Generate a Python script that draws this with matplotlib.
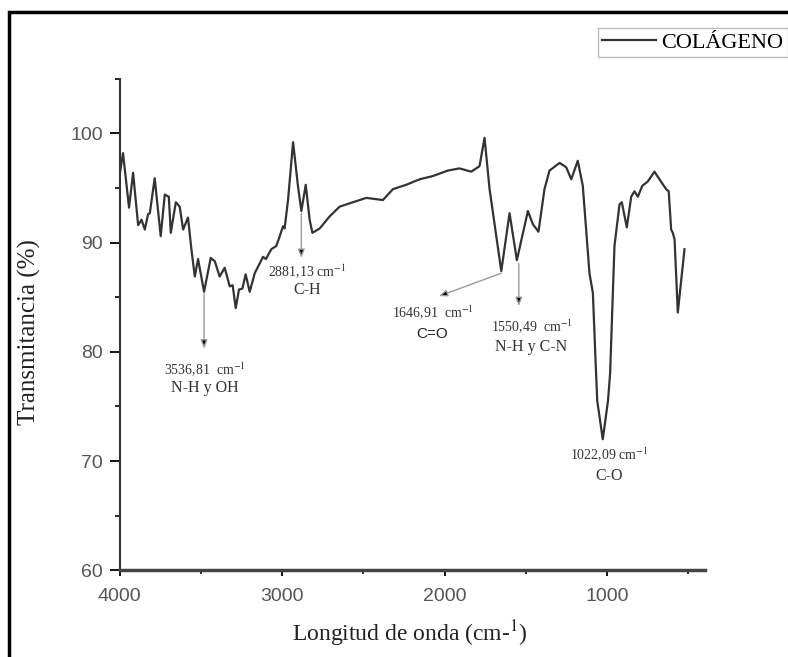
import numpy as np
import matplotlib.pyplot as plt
from matplotlib.patches import Rectangle
from matplotlib.ticker import MultipleLocator

plt.rcParams['mathtext.fontset'] = 'stix'

# FTIR spectrum of collagen
wavenumber = [4000, 3980, 3943, 3918, 3887, 3866, 3846, 3826, 3815, 3785, 3748, 3723, 3698, 3686,
              3655, 3631, 3610, 3580, 3559, 3538, 3518, 3481, 3440, 3415, 3385, 3354, 3323, 3305,
              3286, 3266, 3245, 3225, 3200, 3169, 3118, 3100, 3067, 3036, 3015, 2995, 2985, 2964,
              2933, 2903, 2882, 2855, 2831, 2814, 2769, 2708, 2646, 2585, 2482, 2380, 2318, 2236,
              2154, 2072, 1980, 1908, 1836, 1785, 1754, 1723, 1651, 1600, 1555, 1487, 1457, 1422,
              1385, 1354, 1292, 1251, 1220, 1180, 1149, 1108, 1087, 1070, 1060, 1026, 994, 981,
              954, 923, 909, 878, 851, 831, 810, 783, 749, 708, 677, 636, 620, 605, 595, 584, 564, 523]
transmit = [96.3, 98.2, 93.2, 96.4, 91.6, 92.1, 91.2, 92.6, 92.7, 95.9, 90.6, 94.4, 94.2, 90.9,
            93.7, 93.3, 91.2, 92.3, 89.4, 86.9, 88.5, 85.5, 88.6, 88.3, 86.9, 87.7, 86.0, 86.1,
            84.0, 85.7, 85.8, 87.1, 85.5, 87.2, 88.7, 88.5, 89.4, 89.7, 90.6, 91.5, 91.3, 93.9,
            99.2, 95.2, 92.9, 95.3, 92.1, 90.9, 91.3, 92.4, 93.3, 93.6, 94.1, 93.9, 94.9, 95.3,
            95.8, 96.1, 96.6, 96.8, 96.5, 97.0, 99.6, 94.9, 87.4, 92.7, 88.4, 92.9, 91.7, 91.0,
            94.9, 96.6, 97.3, 96.9, 95.8, 97.5, 95.2, 87.2, 85.4, 79.0, 75.5, 72.0, 75.5, 78.0,
            89.7, 93.5, 93.7, 91.4, 94.2, 94.7, 94.2, 95.2, 95.6, 96.5, 95.8, 94.9, 94.7, 91.2,
            90.9, 90.3, 83.6, 89.4]

# band labels: (number text, group text, x, y number, y group)
bands = [
    (r'3536,81  cm$^{-1}$', 'N-H y OH', 3477, 78.3, 76.7),
    (r'2881,13 cm$^{-1}$', 'C-H', 2849, 87.3, 85.7),
    (r'1646,91  cm$^{-1}$', 'C=O', 2074, 83.6, 81.6),
    (r'1550,49  cm$^{-1}$', 'N-H y C-N', 1465, 82.3, 80.4),
    (r'1022,09 cm$^{-1}$', 'C-O', 985, 70.6, 68.6),
]
# arrows: start (on the curve) -> end
arrows = [
    ((3481, 85.3), (3481, 80.3)),
    ((2882, 92.7), (2882, 88.6)),
    ((1651, 87.2), (2035, 85.1)),
    ((1543, 88.1), (1543, 84.2)),
]

serif = 'Liberation Serif'
sans = 'Liberation Sans'

fig = plt.figure(figsize=(7.88, 6.57), dpi=100)
ax = fig.add_axes([0.152, 0.132, 0.743, 0.748])

line, = ax.plot(wavenumber, transmit, color='#333333', lw=1.6, label='COLÁGENO')

ax.set_xlim(4000, 395)
ax.set_ylim(60, 105)
ax.xaxis.set_major_locator(MultipleLocator(1000))
ax.xaxis.set_minor_locator(MultipleLocator(500))
ax.yaxis.set_major_locator(MultipleLocator(10))
ax.yaxis.set_minor_locator(MultipleLocator(5))

for s in ['top', 'right']:
    ax.spines[s].set_visible(False)
ax.spines['left'].set_linewidth(1.5)
ax.spines['bottom'].set_linewidth(2.5)
ax.spines['left'].set_color('#333')
ax.spines['bottom'].set_color('#444')

ax.tick_params(axis='y', which='major', direction='out', length=7, width=1.3, pad=5,
               labelsize=14, labelcolor='#555')
ax.tick_params(axis='y', which='minor', direction='out', length=3.5, width=1.2)
ax.tick_params(axis='x', which='major', direction='out', length=4.5, width=1.3, pad=8,
               labelsize=14, labelcolor='#555')
ax.tick_params(axis='x', which='minor', direction='out', length=3, width=1.2)
for lab in ax.get_xticklabels() + ax.get_yticklabels():
    lab.set_family(sans)

ax.set_xlabel('Longitud de onda (cm-$^{1}$)', family=serif, fontsize=17, color='#222')
ax.xaxis.set_label_coords(0.496, -0.098)
ax.set_ylabel('Transmitancia (%)', family=serif, fontsize=18, color='#222')
ax.yaxis.set_label_coords(-0.135, 0.485)

for num, grp, x, y1, y2 in bands:
    ax.text(x, y1, num, ha='center', va='center', fontsize=10, family=serif, color='#333')
    if grp == 'C=O':
        ax.text(x, y2, grp, ha='center', va='center', fontsize=11, family=sans, color='#222')
    else:
        ax.text(x, y2, grp, ha='center', va='center', fontsize=11.5, family=serif, color='#333')

for start, end in arrows:
    ax.annotate('', xy=end, xytext=start,
                arrowprops=dict(arrowstyle='-|>,head_length=0.5,head_width=0.2',
                                ec='#9a9a9a', fc='black', lw=1.0, shrinkA=0, shrinkB=0))

fig.legend(handles=[line], loc='upper left', bbox_to_anchor=(598 / 788, 1 - 28 / 657),
           frameon=True, fancybox=False, edgecolor='#bbbbbb', framealpha=1,
           prop={'family': serif, 'size': 16}, handlelength=2.4, handletextpad=0.25,
           borderpad=0.2, borderaxespad=0)

# outer frame of the picture
fig.add_artist(Rectangle((9 / 788, -0.1), 1.2, 1.1 - 12 / 657, transform=fig.transFigure,
                         fill=False, lw=2.5, ec='black'))

fig.savefig('out.png', dpi=100)
